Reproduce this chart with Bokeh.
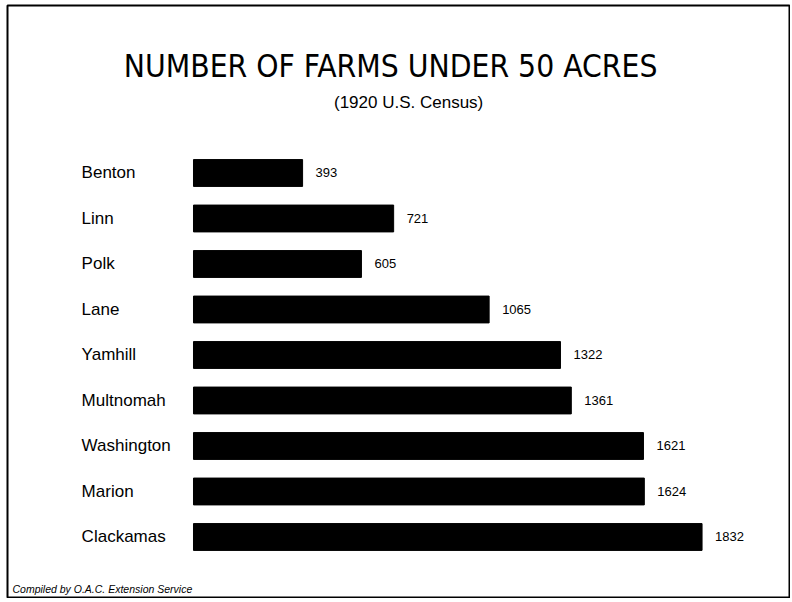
from bokeh.plotting import figure
from bokeh.models import Range1d, ColumnDataSource, Label
from bokeh.core.properties import value
from bokeh.embed import file_html
from bokeh.resources import INLINE

counties = ["Benton", "Linn", "Polk", "Lane", "Yamhill", "Multnomah", "Washington", "Marion", "Clackamas"]
farms = [393, 721, 605, 1065, 1322, 1361, 1621, 1624, 1832]
value_labels = ["393", "721", "605", "1065", "1322", "1361", "1621", "1624", "1832"]
title_text = "NUMBER OF FARMS UNDER 50 ACRES"
subtitle_text = "(1920 U.S. Census)"
footer_text = "Compiled by O.A.C. Extension Service"

n = len(counties)
ypos = [n - 1 - i for i in range(n)]
label_x = [-403] * n

src = ColumnDataSource(dict(county=counties, farms=farms, y=ypos, lab=value_labels, lx=label_x))

W, H = 790, 598
p = figure(width=W, height=H, output_backend="svg", toolbar_location=None,
           x_range=Range1d(-670.0, 2147.0), y_range=Range1d(-1.330, 11.681),
           min_border=0, min_border_left=7, min_border_right=1, min_border_top=5, min_border_bottom=1)
p.axis.visible = False
p.grid.visible = False
p.background_fill_color = "white"
p.border_fill_color = "white"
p.outline_line_color = "black"
p.outline_line_width = 2

p.hbar(y="y", left=0, right="farms", height=0.59, source=src, color="black")

p.text(x="lx", y="y", text="county", source=src, text_font=value("Liberation Sans"),
       text_font_size="17px", text_baseline="middle", text_align="left", text_color="black")
p.text(x="farms", y="y", text="lab", source=src, x_offset=13, text_font=value("Liberation Sans"),
       text_font_size="13px", text_baseline="middle", text_align="left", text_color="black")

p.add_layout(Label(x=710, y=10.341, text=title_text,
                   text_font="'DejaVu Sans Condensed', 'Liberation Sans Narrow', 'Roboto'",
                   text_font_size="31.5px", text_align="center",
                   text_baseline="middle", text_color="black"))
p.add_layout(Label(x=775, y=9.549, text=subtitle_text,
                   text_font="Liberation Sans", text_font_size="17px", text_align="center",
                   text_baseline="middle", text_color="black"))
p.add_layout(Label(x=-652, y=-1.154, text=footer_text,
                   text_font="Liberation Sans", text_font_size="10.5px", text_font_style="italic",
                   text_align="left", text_baseline="middle", text_color="black"))

open("out.html", "w").write(file_html(p, INLINE))
